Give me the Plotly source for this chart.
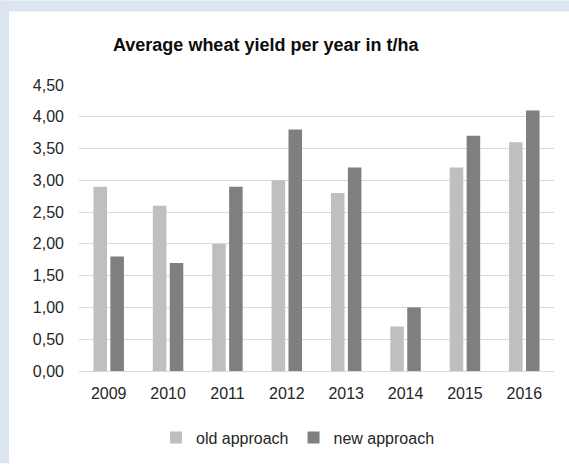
import plotly.graph_objects as go

years = ["2009", "2010", "2011", "2012", "2013", "2014", "2015", "2016"]
old_approach = [2.9, 2.6, 2.0, 3.0, 2.8, 0.7, 3.2, 3.6]
new_approach = [1.8, 1.7, 2.9, 3.8, 3.2, 1.0, 3.7, 4.1]
y_ticks = [0, 0.5, 1.0, 1.5, 2.0, 2.5, 3.0, 3.5, 4.0, 4.5]

W, H = 569, 466
L, R, T, B = 79, 15, 85, 93
pw, ph = W - L - R, H - T - B

def px_x(p):
    return (p - L) / pw

def px_y(p):
    return (H - B - p) / ph

font = "Liberation Sans, Arial, sans-serif"
txt = "#262626"
frame = "#dce6f2"

fig = go.Figure()
fig.add_trace(go.Bar(x=years, y=old_approach, name="old approach",
                     marker=dict(color="#bfbfbf", line=dict(width=0))))
fig.add_trace(go.Bar(x=years, y=new_approach, name="new approach",
                     marker=dict(color="#7f7f7f", line=dict(width=0))))

fig.update_layout(
    width=W, height=H,
    margin=dict(l=L, r=R, t=T, b=B),
    paper_bgcolor="white",
    plot_bgcolor="white",
    separators=",.",
    barmode="group",
    bargap=0.43,
    bargroupgap=0.2,
    font=dict(family=font, size=16, color=txt),
    title=dict(text="<b>Average wheat yield per year in t/ha</b>",
               font=dict(family=font, size=18, color="#0d0d0d"),
               x=px_x(113), xref="paper", xanchor="left",
               y=1 - 45 / H, yref="container", yanchor="middle"),
    legend=dict(orientation="h", x=px_x(298), xanchor="center",
                y=px_y(440), yanchor="middle",
                font=dict(family=font, size=16, color=txt),
                bgcolor="rgba(0,0,0,0)", itemwidth=30, traceorder="normal"),
    shapes=[
        dict(type="rect", xref="paper", yref="paper", layer="below",
             x0=px_x(0), x1=px_x(9), y0=px_y(H), y1=px_y(0),
             fillcolor=frame, line=dict(width=0)),
        dict(type="rect", xref="paper", yref="paper", layer="below",
             x0=px_x(0), x1=px_x(W), y0=px_y(11), y1=px_y(0),
             fillcolor=frame, line=dict(width=0)),
    ],
)
fig.update_xaxes(showgrid=False, showline=True, linecolor="#d9d9d9", linewidth=1,
                 ticks="", tickfont=dict(size=16, color=txt),
                 ticklabelstandoff=8, fixedrange=True)
fig.update_yaxes(range=[0, 4.5], tickvals=y_ticks, tickformat=".2f",
                 showgrid=True, gridcolor="#d9d9d9", gridwidth=1,
                 zeroline=False, showline=False, ticks="",
                 tickfont=dict(size=16, color=txt), ticklabelstandoff=14,
                 fixedrange=True)

fig.write_html("out.html", config={"displayModeBar": False},
               post_script="document.body.style.margin='0';"
                           "document.body.style.overflow='hidden';")
